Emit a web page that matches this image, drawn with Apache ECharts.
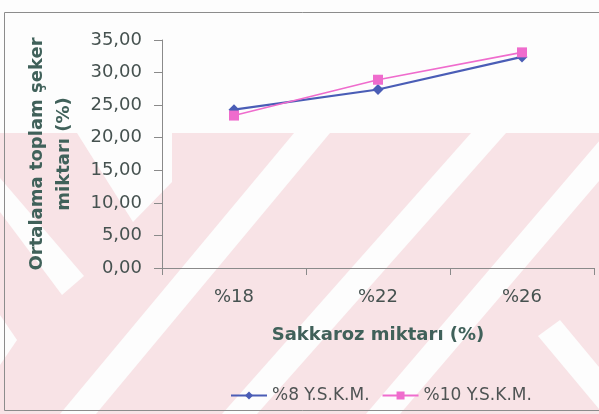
<!DOCTYPE html>
<html>
<head>
<meta charset="utf-8">
<script src="https://cdn.jsdelivr.net/npm/echarts@6/dist/echarts.min.js"></script>
<style>
  html, body { margin: 0; padding: 0; background: #fdfdfd; }
  #chart { width: 599px; height: 414px; }
</style>
</head>
<body>
<div id="chart"></div>
<script>
const categories = ['%18', '%22', '%26'];
const seriesNames = ['%8 Y.S.K.M.', '%10 Y.S.K.M.'];
const ysk8 = [24.3, 27.4, 32.4];
const ysk10 = [23.4, 28.9, 33.1];
const yMin = 0, yMax = 35, yStep = 5;
const xTitle = 'Sakkaroz miktarı (%)';
const yTitle = 'Ortalama toplam şeker\nmiktarı (%)';

const FONT = 'DejaVu Sans';
const PINK_BG = '#f8e3e6';
const WHITE = '#fdfdfd';

function poly(points, fill) {
  return { type: 'polygon', silent: true, z: -10, shape: { points: points }, style: { fill: fill } };
}

const chart = echarts.init(document.getElementById('chart'), null, { renderer: 'canvas' });
chart.setOption({
  backgroundColor: WHITE,
  animation: false,
  graphic: [
    { type: 'rect', silent: true, z: -11, shape: { x: 0, y: 133, width: 599, height: 281 }, style: { fill: PINK_BG } },
    poly([[0,178],[84,276],[62,295],[0,212]], WHITE),
    poly([[77,133],[172,133],[172,182],[133,222]], WHITE),
    poly([[0,315],[17,340],[0,365]], WHITE),
    poly([[60,414],[96,414],[330,133],[294,133]], WHITE),
    poly([[222,414],[257,414],[506,133],[471,133]], WHITE),
    poly([[366,414],[400,414],[640,133],[606,133]], WHITE),
    poly([[538,336],[560,320],[599,367],[599,409]], WHITE),
    { type: 'rect', silent: true, z: -9, shape: { x: 4.5, y: 12.5, width: 700, height: 398 },
      style: { fill: 'none', stroke: '#8c8c8c', lineWidth: 1 } }
  ],
  grid: { left: 162, right: 5, top: 40, bottom: 146, containLabel: false },
  legend: {
    left: 225, top: 382,
    itemWidth: 36, itemHeight: 10, itemGap: 12,
    textStyle: { fontFamily: FONT, fontSize: 17, color: '#4f5454' },
    data: seriesNames
  },
  xAxis: {
    type: 'category',
    data: categories,
    boundaryGap: true,
    axisLine: { lineStyle: { color: '#8a8a8a', width: 1 } },
    axisTick: { show: true, length: 7, lineStyle: { color: '#8a8a8a' } },
    axisLabel: { margin: 20, fontFamily: FONT, fontSize: 18, color: '#465250' },
    name: xTitle,
    nameLocation: 'middle',
    nameGap: 58,
    nameTextStyle: { fontFamily: FONT, fontSize: 18, fontWeight: 'bold', color: '#40615a' },
    splitLine: { show: false }
  },
  yAxis: {
    type: 'value',
    min: yMin, max: yMax, interval: yStep,
    axisLine: { show: true, lineStyle: { color: '#8a8a8a', width: 1 } },
    axisTick: { show: true, length: 8, lineStyle: { color: '#8a8a8a' } },
    axisLabel: {
      margin: 20, fontFamily: FONT, fontSize: 18, color: '#465250',
      formatter: v => v.toFixed(2).replace('.', ',')
    },
    splitLine: { show: false },
    name: yTitle,
    nameLocation: 'middle',
    nameRotate: 90,
    nameGap: 84,
    nameTextStyle: { fontFamily: FONT, fontSize: 18, fontWeight: 'bold', color: '#40615a', lineHeight: 27, align: 'center' }
  },
  series: [
    {
      name: seriesNames[0], type: 'line', data: ysk8,
      symbol: 'diamond', symbolSize: 11,
      lineStyle: { color: '#4a5db6', width: 2.2 },
      itemStyle: { color: '#4a5db6' }
    },
    {
      name: seriesNames[1], type: 'line', data: ysk10,
      symbol: 'rect', symbolSize: 10,
      lineStyle: { color: '#ef6ccd', width: 1.6 },
      itemStyle: { color: '#ef6ccd' }
    }
  ]
});
</script>
</body>
</html>
